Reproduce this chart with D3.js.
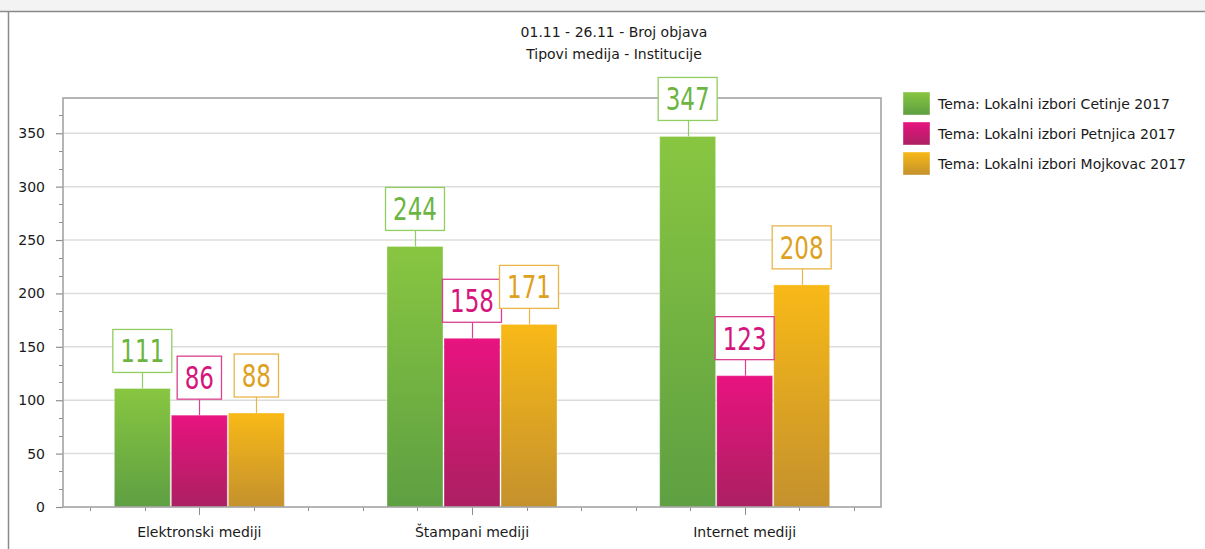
<!DOCTYPE html>
<html>
<head>
<meta charset="utf-8">
<script src="https://cdn.jsdelivr.net/npm/d3@7"></script>
<style>
  html, body { margin: 0; padding: 0; background: #ffffff; }
  svg { display: block; }
  text { font-family: "DejaVu Sans", Verdana, sans-serif; }
</style>
</head>
<body>
<svg id="chart" width="1205" height="549"></svg>
<script>
// ---- data ----
const titleLines = ["01.11 - 26.11 - Broj objava", "Tipovi medija - Institucije"];
const categories = ["Elektronski mediji", "Štampani mediji", "Internet mediji"];
const seriesNames = [
  "Tema: Lokalni izbori Cetinje 2017",
  "Tema: Lokalni izbori Petnjica 2017",
  "Tema: Lokalni izbori Mojkovac 2017"
];
const cetinjeValues = [111, 244, 347];
const petnjicaValues = [86, 158, 123];
const mojkovacValues = [88, 171, 208];
const yTickValues = [0, 50, 100, 150, 200, 250, 300, 350];

(function () {
// ---- styles ----
const seriesValues = [cetinjeValues, petnjicaValues, mojkovacValues];
const gradTop = ["#88c641", "#e8137f", "#f8b917"];
const gradBottom = ["#5e9f42", "#ab2062", "#c4912d"];
const labelText = ["#6cb541", "#d5157c", "#dea11d"];
const labelBorder = ["#92cd60", "#dc4090", "#e9b548"];

const svg = d3.select("#chart");
const W = 1205, H = 549;

// outer panel
svg.append("rect").attr("x", 0).attr("y", 0).attr("width", W).attr("height", 11).attr("fill", "#f3f3f3");
svg.append("line").attr("x1", 0).attr("x2", W).attr("y1", 11.5).attr("y2", 11.5).attr("stroke", "#8a8a8a").attr("stroke-width", 1.5);
svg.append("line").attr("x1", 8.5).attr("x2", 8.5).attr("y1", 11.5).attr("y2", H).attr("stroke", "#8a8a8a").attr("stroke-width", 1.5);

const defs = svg.append("defs");
seriesNames.forEach((s, i) => {
  const g = defs.append("linearGradient").attr("id", "grad" + i)
    .attr("x1", 0).attr("y1", 0).attr("x2", 0).attr("y2", 1);
  g.append("stop").attr("offset", "0%").attr("stop-color", gradTop[i]);
  g.append("stop").attr("offset", "100%").attr("stop-color", gradBottom[i]);
});

// titles
svg.selectAll("text.title").data(titleLines).join("text")
  .attr("class", "title")
  .attr("x", 614).attr("y", (d, i) => 37 + i * 22)
  .attr("text-anchor", "middle")
  .attr("font-size", 14).attr("fill", "#1a1a1a")
  .text(d => d);

// plot area
const pLeft = 63, pRight = 881, pTop = 98, pBottom = 507;
const y = d3.scaleLinear().domain([0, 383]).range([pBottom, pTop]);
const x0 = d3.scaleBand().domain(categories).range([pLeft, pRight]).paddingInner(0.3765).paddingOuter(0.3765 / 2);
const x1 = d3.scaleBand().domain(d3.range(seriesNames.length)).range([0, x0.bandwidth()]).paddingInner(0.018);

svg.append("rect").attr("x", pLeft).attr("y", pTop).attr("width", pRight - pLeft).attr("height", pBottom - pTop).attr("fill", "#ffffff");

// gridlines
svg.append("g").selectAll("line").data(yTickValues.filter(v => v > 0)).join("line")
  .attr("x1", pLeft).attr("x2", pRight)
  .attr("y1", d => y(d)).attr("y2", d => y(d))
  .attr("stroke", "#dcdcdc").attr("stroke-width", 1.5);

// y axis minor ticks
const minorY = d3.range(0, 383, 50 / 3).filter(v => Math.abs(v / 50 - Math.round(v / 50)) > 0.01);
svg.append("g").selectAll("line").data(minorY).join("line")
  .attr("x1", pLeft - 4).attr("x2", pLeft)
  .attr("y1", d => Math.round(y(d)) + 0.5).attr("y2", d => Math.round(y(d)) + 0.5)
  .attr("stroke", "#8f8f8f").attr("stroke-width", 1);

// y axis major via d3 axis
const yAxis = svg.append("g").attr("transform", `translate(${pLeft},0)`)
  .call(d3.axisLeft(y).tickValues(yTickValues).tickSize(7).tickPadding(11).tickFormat(d3.format("d")));
yAxis.select(".domain").remove();
yAxis.selectAll(".tick line").attr("stroke", "#8f8f8f").attr("stroke-width", 1.2);
yAxis.selectAll(".tick text").attr("font-size", 14).attr("fill", "#1a1a1a")
  .attr("font-family", "DejaVu Sans, Verdana, sans-serif");

// x axis ticks: major at centres, minor at fifths of band step
const step = x0.step();
const xTicks = [];
categories.forEach(c => {
  const cx = x0(c) + x0.bandwidth() / 2;
  for (let k = -2; k <= 2; k++) {
    const px = cx + k * step / 5;
    if (px > pLeft + 2 && px < pRight - 2) xTicks.push({ px, major: k === 0 });
  }
});
svg.append("g").selectAll("line").data(xTicks).join("line")
  .attr("x1", d => Math.round(d.px) + 0.5).attr("x2", d => Math.round(d.px) + 0.5)
  .attr("y1", pBottom).attr("y2", d => pBottom + (d.major ? 8 : 4))
  .attr("stroke", "#8f8f8f").attr("stroke-width", 1);

svg.append("g").selectAll("text").data(categories).join("text")
  .attr("x", d => x0(d) + x0.bandwidth() / 2)
  .attr("y", 537)
  .attr("text-anchor", "middle").attr("font-size", 14).attr("fill", "#1a1a1a")
  .text(d => d);

// bars
const barData = [];
categories.forEach((c, ci) => {
  seriesValues.forEach((vals, si) => {
    barData.push({ c, si, v: vals[ci] });
  });
});
svg.append("g").selectAll("rect").data(barData).join("rect")
  .attr("x", d => x0(d.c) + x1(d.si))
  .attr("y", d => y(d.v))
  .attr("width", x1.bandwidth())
  .attr("height", d => pBottom - y(d.v))
  .attr("fill", d => `url(#grad${d.si})`)
  .attr("stroke", "rgba(255,255,255,0.35)").attr("stroke-width", 1);

// plot border
svg.append("rect").attr("x", pLeft).attr("y", pTop).attr("width", pRight - pLeft).attr("height", pBottom - pTop)
  .attr("fill", "none").attr("stroke", "#a3a3a3").attr("stroke-width", 1.6);

// value labels
const scaleX = 0.72;
const lbl = svg.append("g");
barData.forEach(d => {
  const cx = x0(d.c) + x1(d.si) + x1.bandwidth() / 2;
  const barTop = y(d.v);
  const boxBottom = barTop - 16;
  const boxH = 43;
  const g = lbl.append("g");
  g.append("line").attr("x1", Math.round(cx) + 0.5).attr("x2", Math.round(cx) + 0.5)
    .attr("y1", boxBottom).attr("y2", barTop)
    .attr("stroke", labelBorder[d.si]).attr("stroke-width", 1.2);
  const rect = g.append("rect");
  const t = g.append("text")
    .attr("transform", `translate(${cx},${boxBottom - 10}) scale(${scaleX},1)`)
    .attr("text-anchor", "middle").attr("font-size", 32).attr("fill", labelText[d.si])
    .text(d.v);
  const tw = t.node().getComputedTextLength() * scaleX;
  const bw = tw + 15;
  rect.attr("x", cx - bw / 2).attr("y", boxBottom - boxH)
    .attr("width", bw).attr("height", boxH)
    .attr("fill", "#ffffff").attr("stroke", labelBorder[d.si]).attr("stroke-width", 1.3);
});

// legend
const legend = svg.append("g");
seriesNames.forEach((s, i) => {
  legend.append("rect").attr("x", 903).attr("y", 92 + i * 30).attr("width", 27).attr("height", 23)
    .attr("fill", `url(#grad${i})`).attr("stroke", "rgba(255,255,255,0.4)").attr("stroke-width", 1);
  legend.append("text").attr("x", 938).attr("y", 109 + i * 30)
    .attr("font-size", 14).attr("fill", "#1a1a1a").text(s);
});
})();
</script>
</body>
</html>
